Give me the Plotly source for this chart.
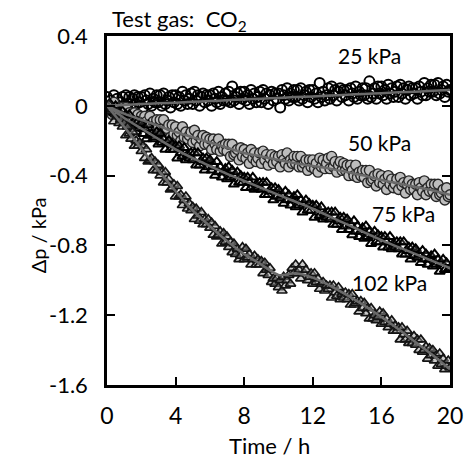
import plotly.graph_objects as go

# ---------------- data ----------------
time_h = [0.0, 0.1, 0.2, 0.3, 0.4, 0.5, 0.6, 0.7, 0.8, 0.9,
          1.0, 1.1, 1.2, 1.3, 1.4, 1.5, 1.6, 1.7, 1.8, 1.9,
          2.0, 2.1, 2.2, 2.3, 2.4, 2.5, 2.6, 2.7, 2.8, 2.9,
          3.0, 3.1, 3.2, 3.3, 3.4, 3.5, 3.6, 3.7, 3.8, 3.9,
          4.0, 4.1, 4.2, 4.3, 4.4, 4.5, 4.6, 4.7, 4.8, 4.9,
          5.0, 5.1, 5.2, 5.3, 5.4, 5.5, 5.6, 5.7, 5.8, 5.9,
          6.0, 6.1, 6.2, 6.3, 6.4, 6.5, 6.6, 6.7, 6.8, 6.9,
          7.0, 7.1, 7.2, 7.3, 7.4, 7.5, 7.6, 7.7, 7.8, 7.9,
          8.0, 8.1, 8.2, 8.3, 8.4, 8.5, 8.6, 8.7, 8.8, 8.9,
          9.0, 9.1, 9.2, 9.3, 9.4, 9.5, 9.6, 9.7, 9.8, 9.9,
          10.0, 10.1, 10.2, 10.3, 10.4, 10.5, 10.6, 10.7, 10.8, 10.9,
          11.0, 11.1, 11.2, 11.3, 11.4, 11.5, 11.6, 11.7, 11.8, 11.9,
          12.0, 12.1, 12.2, 12.3, 12.4, 12.5, 12.6, 12.7, 12.8, 12.9,
          13.0, 13.1, 13.2, 13.3, 13.4, 13.5, 13.6, 13.7, 13.8, 13.9,
          14.0, 14.1, 14.2, 14.3, 14.4, 14.5, 14.6, 14.7, 14.8, 14.9,
          15.0, 15.1, 15.2, 15.3, 15.4, 15.5, 15.6, 15.7, 15.8, 15.9,
          16.0, 16.1, 16.2, 16.3, 16.4, 16.5, 16.6, 16.7, 16.8, 16.9,
          17.0, 17.1, 17.2, 17.3, 17.4, 17.5, 17.6, 17.7, 17.8, 17.9,
          18.0, 18.1, 18.2, 18.3, 18.4, 18.5, 18.6, 18.7, 18.8, 18.9,
          19.0, 19.1, 19.2, 19.3, 19.4, 19.5, 19.6, 19.7, 19.8, 19.9,
          20.0]

dp_25kPa = [0.05, 0.00, 0.03, -0.02, 0.06, 0.01, 0.04, -0.01, 0.02, 0.05,
            -0.01, 0.06, 0.01, 0.05, -0.02, 0.04, 0.06, 0.01, 0.05, 0.02,
            0.05, -0.01, 0.06, 0.03, 0.01, 0.07, 0.00, 0.04, 0.02, 0.06,
            0.02, 0.06, 0.00, 0.07, 0.01, 0.03, 0.05, -0.01, 0.06, 0.02,
            0.06, 0.01, 0.05, 0.00, 0.08, 0.03, 0.06, 0.01, 0.04, 0.07,
            0.01, 0.08, 0.03, 0.06, 0.00, 0.05, 0.07, 0.02, 0.06, 0.03,
            0.06, 0.00, 0.07, 0.04, 0.02, 0.08, 0.01, 0.05, 0.03, 0.07,
            0.03, 0.08, 0.02, 0.11, 0.03, 0.05, 0.07, 0.01, 0.08, 0.04,
            0.08, 0.03, 0.06, 0.01, 0.09, 0.04, 0.07, 0.02, 0.05, 0.08,
            0.02, 0.09, 0.04, 0.07, 0.01, 0.06, 0.08, 0.03, 0.07, 0.04,
            0.07, -0.01, 0.09, 0.06, 0.04, 0.10, 0.03, 0.07, 0.05, 0.09,
            0.05, 0.09, 0.03, 0.10, 0.04, 0.06, 0.08, 0.02, 0.09, 0.05,
            0.09, 0.04, 0.07, 0.02, 0.13, 0.05, 0.08, 0.03, 0.06, 0.10,
            0.04, 0.11, 0.06, 0.09, 0.03, 0.08, 0.10, 0.05, 0.09, 0.06,
            0.09, 0.03, 0.10, 0.07, 0.05, 0.11, 0.04, 0.08, 0.06, 0.10,
            0.06, 0.10, 0.04, 0.14, 0.05, 0.07, 0.10, 0.04, 0.11, 0.07,
            0.11, 0.06, 0.09, 0.04, 0.12, 0.07, 0.10, 0.05, 0.08, 0.11,
            0.05, 0.12, 0.07, 0.10, 0.04, 0.09, 0.11, 0.06, 0.10, 0.07,
            0.10, 0.04, 0.11, 0.08, 0.06, 0.13, 0.06, 0.10, 0.08, 0.12,
            0.08, 0.12, 0.06, 0.13, 0.07, 0.09, 0.11, 0.05, 0.12, 0.08,
            0.09]

dp_50kPa = [0.00, -0.02, 0.00, -0.05, 0.02, -0.03, -0.01, -0.06, -0.04, -0.01,
            -0.08, -0.01, -0.07, -0.04, -0.10, -0.05, -0.04, -0.09, -0.05, -0.09,
            -0.06, -0.12, -0.06, -0.09, -0.11, -0.06, -0.13, -0.09, -0.11, -0.08,
            -0.12, -0.08, -0.15, -0.08, -0.15, -0.13, -0.11, -0.18, -0.11, -0.16,
            -0.12, -0.17, -0.15, -0.20, -0.12, -0.18, -0.15, -0.19, -0.17, -0.15,
            -0.21, -0.14, -0.20, -0.17, -0.23, -0.19, -0.17, -0.22, -0.18, -0.22,
            -0.19, -0.25, -0.19, -0.22, -0.25, -0.19, -0.26, -0.23, -0.25, -0.22,
            -0.26, -0.22, -0.29, -0.22, -0.28, -0.27, -0.25, -0.31, -0.24, -0.29,
            -0.25, -0.30, -0.27, -0.33, -0.25, -0.30, -0.27, -0.32, -0.30, -0.27,
            -0.33, -0.26, -0.31, -0.28, -0.34, -0.30, -0.28, -0.33, -0.29, -0.32,
            -0.29, -0.35, -0.28, -0.31, -0.33, -0.27, -0.35, -0.31, -0.33, -0.29,
            -0.33, -0.29, -0.35, -0.29, -0.35, -0.33, -0.31, -0.37, -0.31, -0.35,
            -0.31, -0.36, -0.33, -0.38, -0.30, -0.35, -0.31, -0.36, -0.33, -0.30,
            -0.36, -0.29, -0.35, -0.32, -0.38, -0.34, -0.32, -0.37, -0.33, -0.37,
            -0.34, -0.40, -0.34, -0.37, -0.40, -0.34, -0.41, -0.38, -0.40, -0.37,
            -0.41, -0.37, -0.44, -0.37, -0.43, -0.42, -0.40, -0.46, -0.39, -0.44,
            -0.40, -0.45, -0.42, -0.48, -0.40, -0.45, -0.42, -0.47, -0.45, -0.42,
            -0.48, -0.41, -0.46, -0.44, -0.50, -0.45, -0.43, -0.48, -0.45, -0.48,
            -0.45, -0.51, -0.44, -0.47, -0.49, -0.43, -0.51, -0.47, -0.49, -0.45,
            -0.49, -0.45, -0.52, -0.45, -0.51, -0.50, -0.48, -0.54, -0.47, -0.52,
            -0.51]

dp_75kPa = [0.00, -0.03, 0.01, -0.02, -0.04, 0.00, -0.06, -0.04, -0.06, -0.03,
            -0.08, -0.05, -0.11, -0.05, -0.11, -0.10, -0.09, -0.15, -0.09, -0.13,
            -0.10, -0.16, -0.13, -0.19, -0.11, -0.17, -0.16, -0.19, -0.18, -0.15,
            -0.22, -0.16, -0.21, -0.19, -0.25, -0.21, -0.20, -0.25, -0.22, -0.25,
            -0.23, -0.30, -0.23, -0.27, -0.29, -0.24, -0.31, -0.28, -0.30, -0.27,
            -0.31, -0.27, -0.34, -0.27, -0.34, -0.32, -0.30, -0.37, -0.30, -0.35,
            -0.31, -0.37, -0.34, -0.40, -0.32, -0.38, -0.35, -0.41, -0.38, -0.36,
            -0.42, -0.35, -0.41, -0.37, -0.45, -0.40, -0.38, -0.44, -0.40, -0.44,
            -0.41, -0.47, -0.41, -0.44, -0.47, -0.41, -0.48, -0.45, -0.47, -0.44,
            -0.48, -0.44, -0.51, -0.44, -0.51, -0.49, -0.47, -0.54, -0.47, -0.52,
            -0.48, -0.53, -0.51, -0.56, -0.49, -0.54, -0.51, -0.57, -0.54, -0.52,
            -0.58, -0.51, -0.57, -0.54, -0.61, -0.56, -0.54, -0.60, -0.56, -0.60,
            -0.57, -0.64, -0.57, -0.61, -0.63, -0.58, -0.65, -0.62, -0.64, -0.61,
            -0.65, -0.61, -0.68, -0.61, -0.68, -0.66, -0.64, -0.71, -0.64, -0.69,
            -0.65, -0.71, -0.68, -0.74, -0.66, -0.72, -0.69, -0.75, -0.72, -0.70,
            -0.76, -0.69, -0.75, -0.72, -0.79, -0.74, -0.72, -0.78, -0.74, -0.78,
            -0.75, -0.81, -0.75, -0.78, -0.81, -0.75, -0.82, -0.79, -0.81, -0.78,
            -0.82, -0.78, -0.85, -0.78, -0.85, -0.83, -0.81, -0.88, -0.81, -0.86,
            -0.82, -0.87, -0.85, -0.90, -0.83, -0.88, -0.85, -0.91, -0.88, -0.86,
            -0.92, -0.85, -0.91, -0.88, -0.95, -0.90, -0.88, -0.94, -0.90, -0.94,
            -0.93]

dp_102kPa = [0.00, 0.01, -0.03, -0.02, -0.09, -0.05, -0.04, -0.10, -0.08, -0.12,
             -0.10, -0.17, -0.12, -0.16, -0.19, -0.15, -0.23, -0.20, -0.23, -0.21,
             -0.26, -0.23, -0.30, -0.25, -0.32, -0.31, -0.30, -0.37, -0.32, -0.37,
             -0.34, -0.40, -0.38, -0.44, -0.38, -0.44, -0.42, -0.48, -0.47, -0.45,
             -0.52, -0.46, -0.52, -0.51, -0.57, -0.54, -0.52, -0.59, -0.56, -0.60,
             -0.58, -0.65, -0.59, -0.63, -0.66, -0.61, -0.68, -0.65, -0.68, -0.65,
             -0.70, -0.67, -0.74, -0.69, -0.75, -0.74, -0.72, -0.79, -0.73, -0.78,
             -0.75, -0.81, -0.78, -0.84, -0.79, -0.85, -0.82, -0.88, -0.86, -0.81,
             -0.88, -0.82, -0.87, -0.85, -0.91, -0.88, -0.86, -0.91, -0.88, -0.91,
             -0.89, -0.96, -0.90, -0.94, -0.97, -0.93, -1.01, -0.99, -1.02, -0.99,
             -1.04, -1.00, -1.06, -0.98, -1.03, -1.00, -0.97, -1.02, -0.93, -0.96,
             -0.91, -0.96, -0.94, -0.99, -0.91, -0.96, -0.94, -1.00, -0.98, -0.96,
             -1.02, -0.96, -1.01, -0.99, -1.05, -1.02, -1.01, -1.06, -1.03, -1.05,
             -1.03, -1.10, -1.03, -1.07, -1.09, -1.04, -1.11, -1.08, -1.10, -1.07,
             -1.11, -1.08, -1.14, -1.08, -1.14, -1.13, -1.12, -1.18, -1.12, -1.16,
             -1.13, -1.19, -1.16, -1.22, -1.16, -1.22, -1.20, -1.23, -1.21, -1.18,
             -1.25, -1.19, -1.24, -1.22, -1.27, -1.25, -1.23, -1.29, -1.26, -1.29,
             -1.27, -1.34, -1.27, -1.31, -1.34, -1.29, -1.36, -1.34, -1.36, -1.32,
             -1.37, -1.34, -1.40, -1.34, -1.41, -1.40, -1.38, -1.45, -1.39, -1.43,
             -1.40, -1.46, -1.43, -1.49, -1.42, -1.48, -1.45, -1.51, -1.49, -1.46,
             -1.50]

fit_time_h = [0, 1, 2, 3, 4, 5, 6, 7, 8, 9, 10, 11, 12, 13, 14, 15, 16, 17, 18, 19, 20]
fit_25kPa = [0.0, 0.005, 0.01, 0.014, 0.018, 0.023, 0.027, 0.032, 0.036, 0.041, 0.045,
             0.05, 0.054, 0.059, 0.063, 0.068, 0.072, 0.077, 0.081, 0.086, 0.09]
fit_50kPa = [0.0, -0.045, -0.08, -0.115, -0.15, -0.18, -0.21, -0.24, -0.27, -0.29, -0.31,
             -0.33, -0.345, -0.36, -0.38, -0.40, -0.425, -0.445, -0.465, -0.485, -0.51]
fit_75kPa = [0.0, -0.07, -0.13, -0.19, -0.25, -0.30, -0.345, -0.39, -0.43, -0.47, -0.51,
             -0.55, -0.59, -0.635, -0.68, -0.725, -0.77, -0.81, -0.85, -0.89, -0.93]
fit_102kPa = [0.0, -0.12, -0.245, -0.37, -0.49, -0.60, -0.69, -0.775, -0.85, -0.91, -0.97,
              -0.96, -0.985, -1.03, -1.085, -1.145, -1.21, -1.28, -1.355, -1.43, -1.51]

x_ticks = [0, 4, 8, 12, 16, 20]
y_ticks = [0.4, 0.0, -0.4, -0.8, -1.2, -1.6]
y_tick_text = ["0.4", "0", "-0.4", "-0.8", "-1.2", "-1.6"]
series_labels = ["25 kPa", "50 kPa", "75 kPa", "102 kPa"]

# ---------------- figure ----------------
FONT = "Lato"
fig = go.Figure()

marker_specs = [
    (dp_25kPa, "circle", "rgba(255,255,255,0)", "black", 10, 2.0),
    (dp_50kPa, "circle", "#bdbdbd", "#262626", 10, 1.4),
    (dp_75kPa, "triangle-up", "rgba(235,235,235,0.15)", "black", 9, 2.0),
    (dp_102kPa, "triangle-up", "rgba(150,150,150,0.5)", "#141414", 9, 1.7),
]
for vals, sym, fill, edge, sz, lw in marker_specs:
    fig.add_trace(go.Scatter(
        x=time_h, y=vals, mode="markers",
        marker=dict(symbol=sym, size=sz, color=fill, line=dict(color=edge, width=lw)),
        showlegend=False, hoverinfo="skip"))

for fit in (fit_25kPa, fit_50kPa, fit_75kPa, fit_102kPa):
    fig.add_trace(go.Scatter(
        x=fit_time_h, y=fit, mode="lines",
        line=dict(color="#6a6a6a", width=2.5, shape="spline", smoothing=0.6),
        showlegend=False, hoverinfo="skip"))

label_pos = [(15.3, 0.29), (15.9, -0.21), (17.3, -0.62), (16.5, -1.01)]
for txt, (lx, ly) in zip(series_labels, label_pos):
    fig.add_annotation(x=lx, y=ly, text=txt, showarrow=False,
                       font=dict(family=FONT, size=21, color="black"),
                       xanchor="center", yanchor="middle")

fig.add_annotation(xref="paper", yref="paper", x=0.008, y=1.045,
                   text="Test gas:&nbsp; CO<sub>2</sub>", showarrow=False,
                   xanchor="left", yanchor="middle",
                   font=dict(family=FONT, size=22, color="black"))
fig.add_annotation(xref="paper", yref="paper", x=0.475, y=-0.172,
                   text="Time / h", showarrow=False, xanchor="center", yanchor="middle",
                   font=dict(family=FONT, size=22, color="black"))
fig.add_annotation(xref="paper", yref="paper", x=-0.20, y=0.43,
                   text="Δp / kPa", showarrow=False, textangle=-90,
                   xanchor="center", yanchor="middle",
                   font=dict(family=FONT, size=20, color="black"))

fig.update_layout(
    width=475, height=463,
    margin=dict(l=107, r=14, t=36, b=78),
    paper_bgcolor="white", plot_bgcolor="white",
    font=dict(family=FONT, color="black"),
    xaxis=dict(range=[0, 20], tickvals=x_ticks, ticks="inside", ticklen=8, tickwidth=1.5,
               tickcolor="black", showline=True, linecolor="black", linewidth=2.5,
               mirror=True, showgrid=False, zeroline=False,
               tickfont=dict(family=FONT, size=23, color="black"), ticklabelstandoff=9),
    xaxis2=dict(range=[0, 20], tickvals=x_ticks, overlaying="x", anchor="free",
                position=0.8, side="bottom", ticks="outside", ticklen=8, tickwidth=1.5,
                tickcolor="black", showline=True, linecolor="black", linewidth=1.5,
                showticklabels=False, showgrid=False, zeroline=False, layer="below traces"),
    yaxis=dict(range=[-1.6, 0.4], tickvals=y_ticks, ticktext=y_tick_text,
               ticks="inside", ticklen=8, tickwidth=1.5, tickcolor="black",
               showline=True, linecolor="black", linewidth=2.5, mirror="ticks",
               showgrid=False, zeroline=False,
               tickfont=dict(family=FONT, size=22, color="black"), ticklabelstandoff=12),
)

fig.write_html("out.html", config={"displayModeBar": False},
               post_script="document.body.style.margin='0px';")
